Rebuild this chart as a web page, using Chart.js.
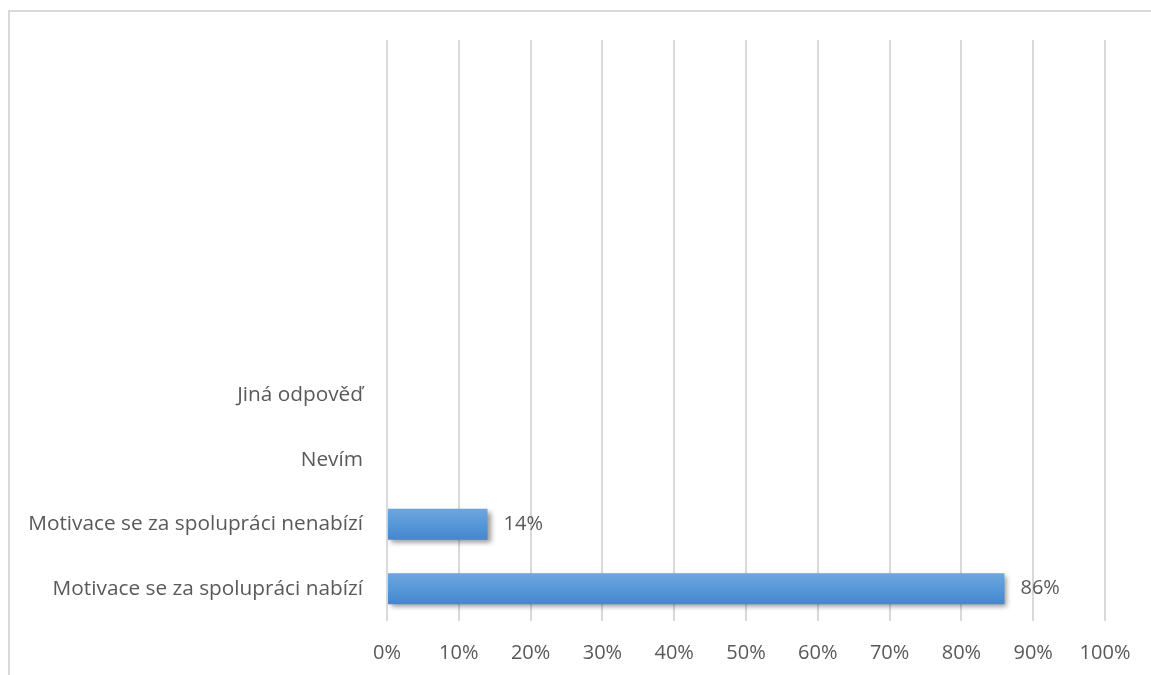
<!DOCTYPE html>
<html>
<head>
<meta charset="utf-8">
<script src="https://cdn.jsdelivr.net/npm/chart.js@4"></script>
<style>
  html, body { margin: 0; padding: 0; background: #fff; }
  #wrap { position: relative; width: 1151px; height: 675px; overflow: hidden; }
  #frame {
    position: absolute; left: 8px; top: 10px; right: -4px; bottom: -4px;
    border-top: 2px solid #d9d9d9; border-left: 2px solid #d9d9d9;
  }
  #myChart { position: absolute; left: 0; top: 0; }
</style>
</head>
<body>
<div id="wrap">
  <div id="frame"></div>
  <canvas id="myChart" width="1151" height="675"></canvas>
</div>
<script>
// categories top to bottom (upper rows are unused answer slots)
const categories = [
  "", "", "", "", "",
  "Jiná odpověď",
  "Nevím",
  "Motivace se za spolupráci nenabízí",
  "Motivace se za spolupráci nabízí",
];
const shares = [null, null, null, null, null, 0, 0, 14, 86];
const xTicks = [0, 10, 20, 30, 40, 50, 60, 70, 80, 90, 100];

const textColor = "#595959";
const fontFamily = "'Open Sans', sans-serif";
const labelSize = 20.8;
const tickSize = 20;
const barPct = 0.48;

// vertical gradient per bar, lighter on top
function barFill(context) {
  const chart = context.chart;
  const y = chart.scales.y;
  const fallback = "#5b9bd5";
  if (!y) return fallback;
  const center = y.getPixelForValue(context.dataIndex);
  const half = Math.abs(y.getPixelForValue(1) - y.getPixelForValue(0)) * barPct / 2;
  if (!isFinite(center) || !isFinite(half) || half === 0) return fallback;
  const g = chart.ctx.createLinearGradient(0, center - half, 0, center + half);
  g.addColorStop(0, "#6ea6dd");
  g.addColorStop(0.5, "#5698d9");
  g.addColorStop(1, "#4786cc");
  return g;
}

const barShadow = {
  id: "barShadow",
  beforeDatasetsDraw(chart) {
    const ctx = chart.ctx;
    ctx.save();
    ctx.shadowColor = "rgba(0, 0, 0, 0.4)";
    ctx.shadowBlur = 5;
    ctx.shadowOffsetX = 3;
    ctx.shadowOffsetY = 3;
  },
  afterDatasetsDraw(chart) {
    chart.ctx.restore();
  },
};

const valueLabels = {
  id: "valueLabels",
  afterDraw(chart) {
    const ctx = chart.ctx;
    const meta = chart.getDatasetMeta(0);
    ctx.save();
    ctx.fillStyle = textColor;
    ctx.font = tickSize + "px " + fontFamily;
    ctx.textAlign = "left";
    ctx.textBaseline = "middle";
    meta.data.forEach((bar, i) => {
      const v = shares[i];
      if (!v) return;
      ctx.fillText(v + "%", bar.x + 16, bar.y);
    });
    ctx.restore();
  },
};

const ctx = document.getElementById("myChart");

new Chart(ctx, {
  type: "bar",
  data: {
    labels: categories,
    datasets: [
      {
        data: shares,
        backgroundColor: barFill,
        borderWidth: 0,
        categoryPercentage: 1,
        barPercentage: barPct,
      },
    ],
  },
  options: {
    responsive: false,
    animation: false,
    indexAxis: "y",
    layout: { padding: { left: 0, right: 46, top: 40, bottom: 0 } },
    plugins: {
      legend: { display: false },
      tooltip: { enabled: false },
    },
    scales: {
      x: {
        min: 0,
        max: 100,
        afterBuildTicks(scale) {
          scale.ticks = xTicks.map((v) => ({ value: v }));
        },
        afterFit(scale) {
          scale.height = 54;
        },
        grid: { color: "#d9d9d9", lineWidth: 2, drawTicks: false },
        border: { display: false },
        ticks: {
          padding: 20,
          color: textColor,
          font: { family: fontFamily, size: tickSize },
          callback: (v) => v + "%",
        },
      },
      y: {
        afterFit(scale) {
          scale.width = 387;
        },
        grid: { display: false, drawTicks: false },
        border: { display: false },
        ticks: {
          padding: 24,
          color: textColor,
          font: { family: fontFamily, size: labelSize },
        },
      },
    },
  },
  plugins: [barShadow, valueLabels],
});
</script>
</body>
</html>
